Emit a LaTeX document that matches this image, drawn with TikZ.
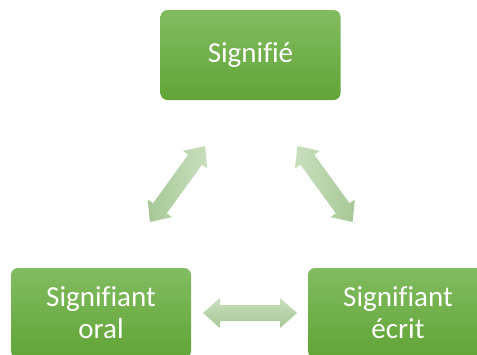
\documentclass[tikz,border=0pt]{standalone}
\usepackage{fontspec}
\setmainfont{Carlito}[Ligatures=NoCommon]
\definecolor{gtop}{HTML}{82BC61}
\definecolor{gbot}{HTML}{61A436}
\definecolor{alight}{HTML}{C9DFBE}
\definecolor{adark}{HTML}{A6C895}
\tikzset{
  box/.style={rounded corners=7pt, top color=gtop, bottom color=gbot,
    minimum width=180pt, minimum height=90pt, inner sep=0pt,
    text=white, align=center, font=\fontsize{29}{32}\selectfont}
}
\begin{document}
\begin{tikzpicture}[x=1pt,y=-1pt]
\clip (0,0) rectangle (477,354);
\fill[white] (0,0) rectangle (477,354);
\node[box] (sig) at (250.5,55) {Signifié};
\node[box] (oral) at (101,313) {Signifiant\\oral};
\node[box] (ecrit) at (398,313) {Signifiant\\écrit};
% left diagonal arrow
\begin{scope}[shift={(177.5,184)}, rotate=54]
\shade[left color=adark, right color=alight]
 (-47,0) -- (-30,15) -- (-30,8.5) -- (30,8.5) -- (30,15) -- (47,0)
 -- (30,-15) -- (30,-8.5) -- (-30,-8.5) -- (-30,-15) -- cycle;
\end{scope}
% right diagonal arrow
\begin{scope}[shift={(325,184)}, rotate=-54]
\shade[left color=alight, right color=adark]
 (-47,0) -- (-30,15) -- (-30,8.5) -- (30,8.5) -- (30,15) -- (47,0)
 -- (30,-15) -- (30,-8.5) -- (-30,-8.5) -- (-30,-15) -- cycle;
\end{scope}
% horizontal arrow
\begin{scope}[shift={(250,313)}]
\shade[top color=alight, bottom color=adark]
 (-47,0) -- (-30,-15) -- (-30,-8) -- (30,-8) -- (30,-15) -- (47,0)
 -- (30,15) -- (30,8) -- (-30,8) -- (-30,15) -- cycle;
\end{scope}
\end{tikzpicture}
\end{document}
